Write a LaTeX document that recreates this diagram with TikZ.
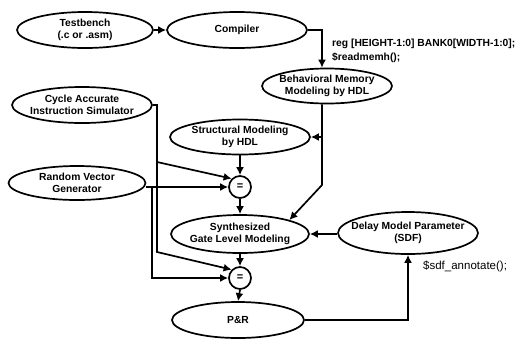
\documentclass[tikz,border=0pt]{standalone}
\usepackage{fontspec}
\setmainfont{Liberation Sans}
\usetikzlibrary{shapes.geometric,arrows.meta}
\tikzset{
  ell/.style={ellipse, draw, line width=1.7pt, inner sep=0pt},
  lab/.style={align=center, inner sep=0pt, font=\bfseries\fontsize{10.3}{11.5}\selectfont},
  eqc/.style={circle, draw, line width=1.7pt, minimum size=22pt, inner sep=0pt,
    font=\bfseries\fontsize{11}{11}\selectfont},
  arr/.style={line width=1.7pt, -{Latex[length=8pt,width=8pt]}},
  code/.style={anchor=west, inner sep=0pt, font=\bfseries\fontsize{10.3}{10.3}\selectfont},
  codeplain/.style={anchor=west, inner sep=0pt, font=\fontsize{11.5}{11.5}\selectfont}
}
\begin{document}
\begin{tikzpicture}[x=1pt,y=-1pt]
\useasboundingbox (0,0) rectangle (532,341);
\node[ell, minimum width=136pt, minimum height=36pt, label={[lab]center:{Testbench\\(.c or .asm)}}] (tb) at (85,30) {};
\node[ell, minimum width=140pt, minimum height=36pt, label={[lab]center:{Compiler}}] (comp) at (237,30) {};
\node[ell, minimum width=130pt, minimum height=35pt, label={[lab]center:{Behavioral Memory\\Modeling by HDL}}] (beh) at (327,86) {};
\node[ell, minimum width=140pt, minimum height=36pt, label={[lab]center:{Cycle Accurate\\Instruction Simulator}}] (cyc) at (82,105) {};
\node[ell, minimum width=140pt, minimum height=35pt, label={[lab]center:{Structural Modeling\\by HDL}}] (str) at (240,137) {};
\node[ell, minimum width=137pt, minimum height=34pt, label={[lab]center:{Random Vector\\Generator}}] (rnd) at (77,183) {};
\node[eqc] (eq1) at (240,187) {=};
\node[ell, minimum width=138pt, minimum height=38pt, label={[lab]center:{Synthesized\\Gate Level Modeling}}] (syn) at (240,234) {};
\node[ell, minimum width=140pt, minimum height=42pt, label={[lab]center:{Delay Model Parameter\\(SDF)}}] (del) at (408,233) {};
\node[eqc] (eq2) at (240,278) {=};
\node[ell, minimum width=132pt, minimum height=36pt, label={[lab]center:{P\&R}}] (pr) at (238,320) {};

\node[code] (t1) at (332,44) {reg [HEIGHT-1:0] BANK0[WIDTH-1:0];};
\node[code] (t2) at (332,58) {\$readmemh();};
\node[codeplain] (t3) at (423,266) {\$sdf\_annotate();};

\coordinate (c1) at (322,30);
\coordinate (b1) at (322,185);
\coordinate (v1) at (157,162);
\coordinate (v2) at (157,252);
\coordinate (v3) at (152,187);

\draw[arr] (tb.east) -- (comp.west);
\draw[arr] (comp.east) -- (c1) -- (c1 |- beh.north);
\draw[arr] (b1 |- beh.south) -- (b1) -- (syn.north east);
\draw[arr] (b1 |- str.east) -- (str.east);
\draw[arr] (str.south) -- (eq1.north);
\draw[arr] (eq1.south) -- (syn.north);
\draw[arr] (cyc.east) -| (v1) -- (eq1.north west);
\draw[arr] (v1) -- (v2) -- (eq2.north west);
\draw[arr] (rnd.east |- eq1.west) -- (eq1.west);
\draw[arr] (v3) |- (eq2.west);
\draw[arr] (del.west |- syn.east) -- (syn.east);
\draw[arr] (syn.south) -- (eq2.north);
\draw[arr] (eq2.south) -- (pr.north);
\draw[arr] (pr.east) -| (del.south);
\end{tikzpicture}
\end{document}
